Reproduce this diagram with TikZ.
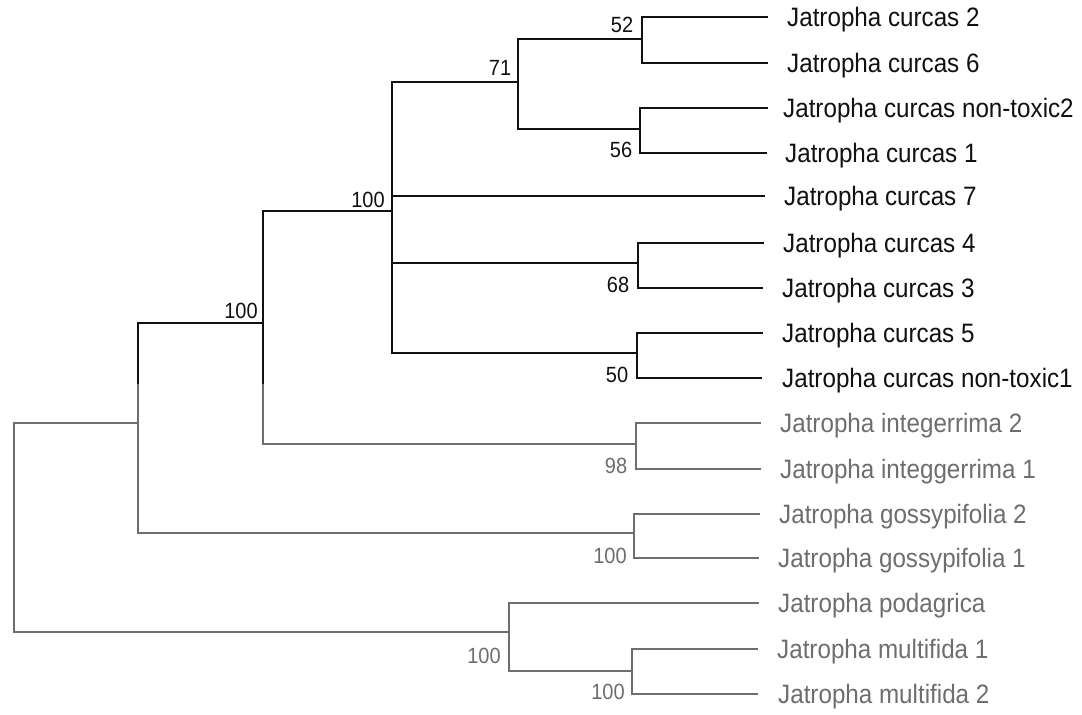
\documentclass[tikz,border=0pt]{standalone}
\usepackage{fontspec}
\setmainfont{Liberation Sans}
\definecolor{lg}{HTML}{6E6E6E}
\definecolor{ink}{HTML}{111111}
\newcommand{\vs}[1]{\scalebox{1}[1.1]{#1}}
\begin{document}
\begin{tikzpicture}[x=1pt,y=-1pt,
  blk/.style={draw=ink,line width=1.7pt,line cap=rect,line join=miter},
  gry/.style={draw=lg,line width=1.6pt,line cap=rect,line join=miter},
  leaf/.style={anchor=base west,inner sep=0pt,font=\fontsize{24.2}{28}\selectfont},
  boot/.style={inner sep=0pt,font=\fontsize{20}{24}\selectfont}]
\useasboundingbox (0,0) rectangle (1082,715);
\fill[white] (0,0) rectangle (1082,715);
% leaf tips
\coordinate (l1) at (767,17);
\coordinate (l2) at (767,63);
\coordinate (l3) at (767,108);
\coordinate (l4) at (766,153);
\coordinate (l5) at (764,196);
\coordinate (l6) at (763,243);
\coordinate (l7) at (762,288);
\coordinate (l8) at (762,333);
\coordinate (l9) at (761,378);
\coordinate (l10) at (760,423);
\coordinate (l11) at (760,469);
\coordinate (l12) at (759,514);
\coordinate (l13) at (758,558);
\coordinate (l14) at (758,603);
\coordinate (l15) at (757,649);
\coordinate (l16) at (757,694);
% internal nodes
\coordinate (G) at (642,39);
\coordinate (H) at (640,129);
\coordinate (D) at (518,82);
\coordinate (E) at (638,263);
\coordinate (F) at (637,353);
\coordinate (C) at (392,211);
\coordinate (I) at (636,444);
\coordinate (B) at (263,323);
\coordinate (J) at (634,533);
\coordinate (A) at (138,423);
\coordinate (L) at (632,671);
\coordinate (K) at (509,632);
\coordinate (R) at (14,527);
\coordinate (cut) at (0,385);
% black part
\draw[blk] (l1) -| (G) |- (l2);
\draw[blk] (l3) -| (H) |- (l4);
\draw[blk] (G) -| (D) |- (H);
\draw[blk] (l6) -| (E) |- (l7);
\draw[blk] (l8) -| (F) |- (l9);
\draw[blk] (D) -| (C) |- (F);
\draw[blk] (C |- l5) -- (l5);
\draw[blk] (C |- E) -- (E);
\draw[blk] (C) -| (B |- cut);
\draw[blk] (B) -| (A |- cut);
% gray part
\draw[gry] (B |- cut) |- (I);
\draw[gry] (A |- cut) |- (J);
\draw[gry] (l10) -| (I) |- (l11);
\draw[gry] (l12) -| (J) |- (l13);
\draw[gry] (l15) -| (L) |- (l16);
\draw[gry] (l14) -| (K) |- (L);
\draw[gry] (A) -| (R) |- (K);
% leaf labels
\node[leaf,text=ink] (t1) at ([xshift=20pt,yshift=-9pt]l1) {\vs{Jatropha curcas 2}};
\node[leaf,text=ink] (t2) at ([xshift=20pt,yshift=-9pt]l2) {\vs{Jatropha curcas 6}};
\node[leaf,text=ink] (t3) at ([xshift=16pt,yshift=-9pt]l3) {\vs{Jatropha curcas non-toxic2}};
\node[leaf,text=ink] (t4) at ([xshift=19pt,yshift=-9pt]l4) {\vs{Jatropha curcas 1}};
\node[leaf,text=ink] (t5) at ([xshift=20pt,yshift=-9pt]l5) {\vs{Jatropha curcas 7}};
\node[leaf,text=ink] (t6) at ([xshift=20pt,yshift=-9pt]l6) {\vs{Jatropha curcas 4}};
\node[leaf,text=ink] (t7) at ([xshift=20pt,yshift=-9pt]l7) {\vs{Jatropha curcas 3}};
\node[leaf,text=ink] (t8) at ([xshift=20pt,yshift=-9pt]l8) {\vs{Jatropha curcas 5}};
\node[leaf,text=ink] (t9) at ([xshift=21pt,yshift=-9pt]l9) {\vs{Jatropha curcas non-toxic1}};
\node[leaf,text=lg] (t10) at ([xshift=20pt,yshift=-9pt]l10) {\vs{Jatropha integerrima 2}};
\node[leaf,text=lg] (t11) at ([xshift=20pt,yshift=-9pt]l11) {\vs{Jatropha integgerrima 1}};
\node[leaf,text=lg] (t12) at ([xshift=20pt,yshift=-9pt]l12) {\vs{Jatropha gossypifolia 2}};
\node[leaf,text=lg] (t13) at ([xshift=20pt,yshift=-9pt]l13) {\vs{Jatropha gossypifolia 1}};
\node[leaf,text=lg] (t14) at ([xshift=20pt,yshift=-9pt]l14) {\vs{Jatropha podagrica}};
\node[leaf,text=lg] (t15) at ([xshift=20pt,yshift=-9pt]l15) {\vs{Jatropha multifida 1}};
\node[leaf,text=lg] (t16) at ([xshift=21pt,yshift=-9pt]l16) {\vs{Jatropha multifida 2}};
% bootstrap values
\node[boot,text=ink] (bG) at (622,25) {\vs{52}};
\node[boot,text=ink] (bD) at (500,68) {\vs{71}};
\node[boot,text=ink] (bH) at (621,150) {\vs{56}};
\node[boot,text=ink] (bC) at (368,200) {\vs{100}};
\node[boot,text=ink] (bB) at (241,311) {\vs{100}};
\node[boot,text=ink] (bE) at (618,285) {\vs{68}};
\node[boot,text=ink] (bF) at (617,375) {\vs{50}};
\node[boot,text=lg] (bI) at (616,466) {\vs{98}};
\node[boot,text=lg] (bJ) at (610,556) {\vs{100}};
\node[boot,text=lg] (bK) at (484,656) {\vs{100}};
\node[boot,text=lg] (bL) at (608,692) {\vs{100}};
\end{tikzpicture}
\end{document}
